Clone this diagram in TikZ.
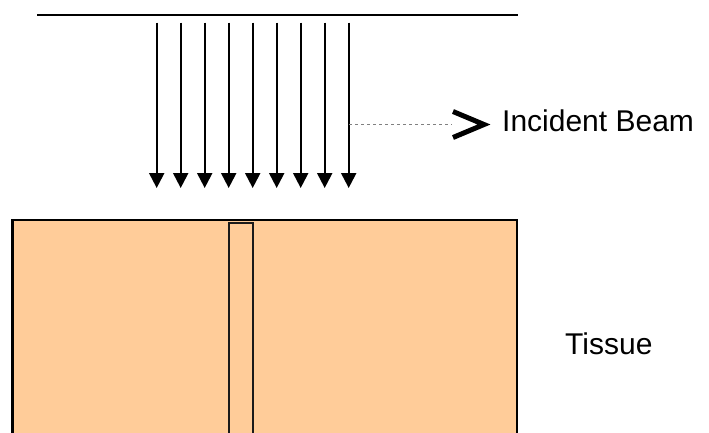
\documentclass[tikz,border=0pt]{standalone}
\usepackage{fontspec}
\setmainfont{Liberation Sans}
\usetikzlibrary{arrows.meta}
\definecolor{tissuefill}{HTML}{FFCC99}
\definecolor{edgedark}{HTML}{1A1A1A}
\tikzset{
  beamray/.style={line width=2.2pt, -{Triangle[width=15pt,length=15pt]}},
  label/.style={inner sep=0pt, anchor=base west, font=\fontsize{30}{36}\selectfont},
  leader/.style={draw=gray, line width=0.8pt, dash pattern=on 3pt off 3pt},
}
\begin{document}
\begin{tikzpicture}[x=1pt,y=-1pt]
\useasboundingbox (0,0) rectangle (709,432);

% source plane
\draw[line width=2.2pt] (37,15) -- (518,15);

% incident rays
\foreach \i in {0,...,8} {
  \coordinate (r\i a) at (156.7+24*\i,22.7);
  \coordinate (r\i b) at (156.7+24*\i,188);
  \draw[beamray] (r\i a) -- (r\i b);
}

% tissue block and the narrow column inside it
\draw[fill=tissuefill, line width=2.2pt] (12.5,220) rectangle (516.7,445);
\draw[draw=edgedark, line width=2.2pt] (229.3,223.3) rectangle (253.3,445);

% labels
\node[label] (beam) at (502,131) {Incident Beam};
\node[label] (tissue) at (565,354) {Tissue};

% leader from the last ray to the beam label
\coordinate (lead) at (349,124.5);
\draw[leader] (lead) -- (452,124.5);
\draw[line width=5pt, miter limit=10] (453,111.5) -- (484,124.5) -- (453,137.5);
\end{tikzpicture}
\end{document}
